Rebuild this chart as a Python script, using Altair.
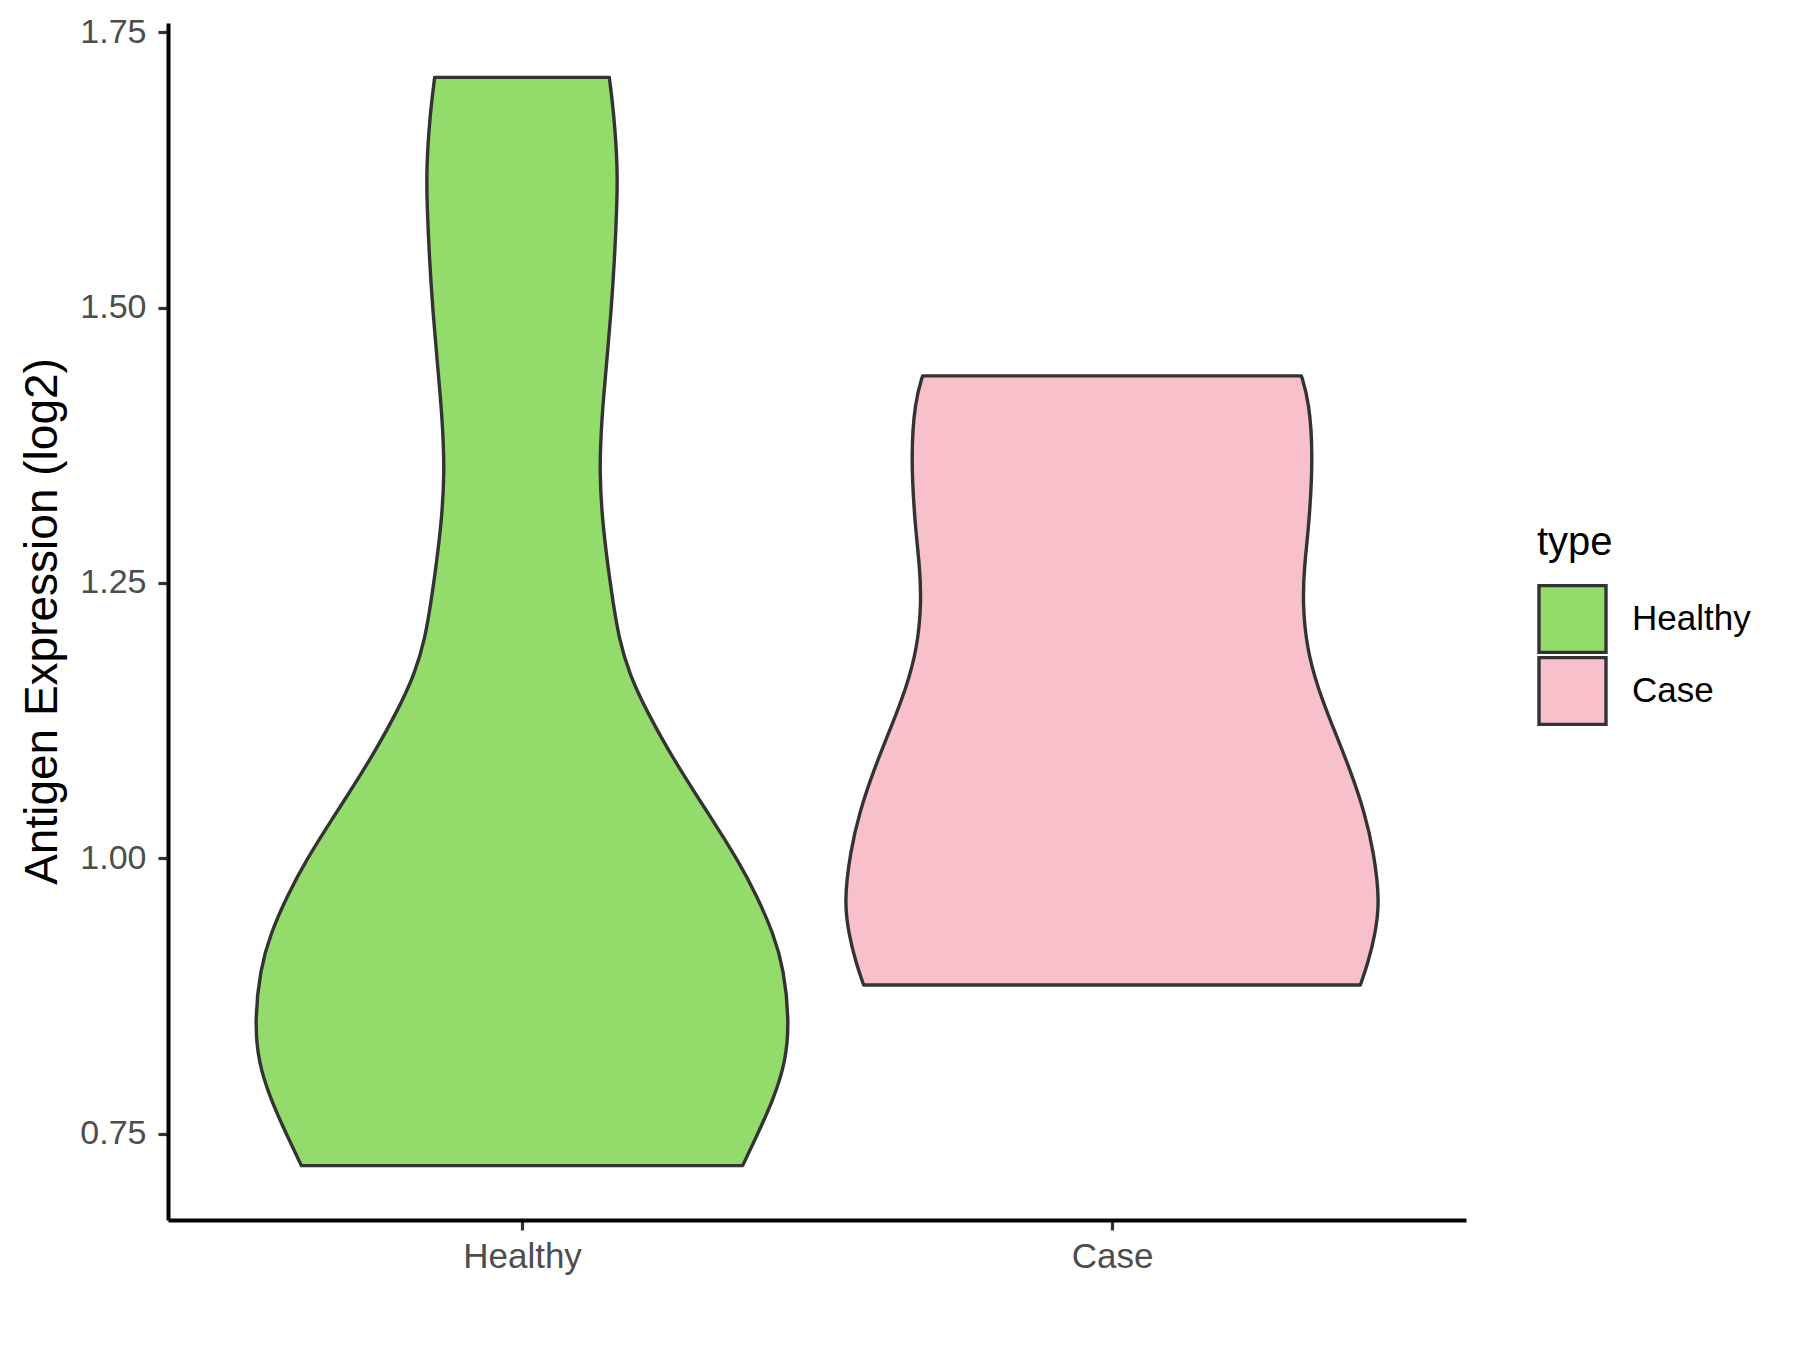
import altair as alt
import pandas as pd

# ---- data ----
categories = ["Healthy", "Case"]
fill_colors = ["#93DB6B", "#F7C0CB"]

# violin outline: expression value (log2) and half-width (in x-axis units)
healthy_value = [0.721, 0.748, 0.781, 0.815, 0.852, 0.899, 0.932, 0.966, 0.999, 1.033,
                 1.066, 1.100, 1.133, 1.167, 1.200, 1.234, 1.252, 1.301, 1.350, 1.399,
                 1.447, 1.496, 1.545, 1.594, 1.627, 1.675, 1.709]
healthy_halfwidth = [0.374, 0.398, 0.426, 0.447, 0.453, 0.444, 0.426, 0.398, 0.365, 0.325,
                     0.285, 0.246, 0.212, 0.182, 0.164, 0.154, 0.149, 0.137, 0.131, 0.135,
                     0.143, 0.151, 0.157, 0.161, 0.162, 0.156, 0.148]

case_value = [0.885, 0.905, 0.931, 0.960, 1.005, 1.042, 1.080, 1.117, 1.154, 1.191,
              1.232, 1.266, 1.303, 1.366, 1.415, 1.438]
case_halfwidth = [0.421, 0.434, 0.446, 0.454, 0.444, 0.428, 0.404, 0.376, 0.349, 0.330,
                  0.323, 0.326, 0.334, 0.341, 0.334, 0.321]

y_ticks = [0.75, 1.00, 1.25, 1.50, 1.75]
y_domain = [0.6716, 1.7584]
x_domain = [0.4, 2.6]

rows = []
for i, (cat, vals, hws) in enumerate([("Healthy", healthy_value, healthy_halfwidth),
                                       ("Case", case_value, case_halfwidth)]):
    for v, h in zip(vals, hws):
        rows.append({"type": cat, "pos": i + 1, "value": v, "hw": h})
df = pd.DataFrame(rows)

label_expr = "datum.value == 1 ? '%s' : '%s'" % (categories[0], categories[1])

FONT = "Liberation Sans"

chart = alt.Chart(df).transform_calculate(
    lo="datum.pos - datum.hw",
    hi="datum.pos + datum.hw",
).mark_area(
    orient="horizontal",
    interpolate="basis",
    stroke="#333333",
    strokeWidth=3.4,
    strokeJoin="round",
).encode(
    y=alt.Y(
        "value:Q",
        scale=alt.Scale(domain=y_domain, nice=False, zero=False),
        axis=alt.Axis(
            values=y_ticks, format=".2f", grid=False,
            title="Antigen Expression (log2)",
            titleFontSize=46, titleFont=FONT, titleFontWeight="normal", titleColor="#000000",
            titleX=-112, titleY=598, titleAngle=270, titleBaseline="alphabetic", titleAlign="center",
            labelFontSize=34, labelFont=FONT, labelColor="#4D4D4D", labelPadding=12,
            tickColor="#333333", tickWidth=3.2, tickSize=10,
            domainColor="#000000", domainWidth=4,
        ),
    ),
    x=alt.X(
        "lo:Q",
        stack=False,
        scale=alt.Scale(domain=x_domain, nice=False, zero=False),
        axis=alt.Axis(
            values=[1, 2], labelExpr=label_expr, grid=False, title="",
            labelFontSize=35, labelFont=FONT, labelColor="#4D4D4D", labelPadding=9,
            tickColor="#333333", tickWidth=3.2, tickSize=10,
            domainColor="#000000", domainWidth=4,
        ),
    ),
    x2="hi:Q",
    fill=alt.Fill(
        "type:N",
        scale=alt.Scale(domain=categories, range=fill_colors),
        legend=alt.Legend(
            title="type", orient="none", legendX=1369, legendY=500, direction="vertical",
            titleFontSize=40, titleFont=FONT, titleFontWeight="normal", titleColor="#000000",
            titlePadding=21,
            labelFontSize=35, labelFont=FONT, labelColor="#000000", labelOffset=24,
            symbolType="square", symbolSize=4489, symbolStrokeWidth=3.4,
            symbolStrokeColor="#333333", symbolOpacity=1,
            clipHeight=70, rowPadding=2, padding=0,
        ),
    ),
).properties(
    width=1298,
    height=1197,
    autosize=alt.AutoSizeParams(type="none"),
    padding={"left": 160, "top": 15, "right": 320, "bottom": 120},
).configure_view(strokeWidth=0)

chart.save("out.html", embed_options={"renderer": "svg", "actions": False})
